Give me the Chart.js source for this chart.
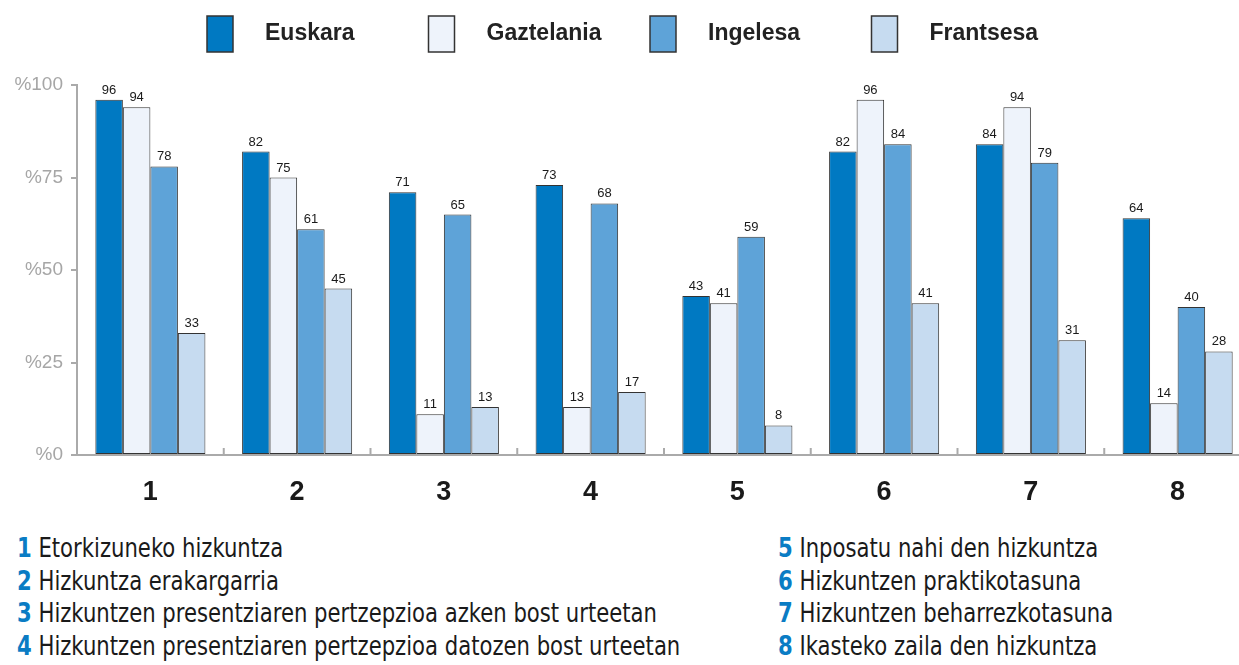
<!DOCTYPE html>
<html>
<head>
<meta charset="utf-8">
<script src="https://cdn.jsdelivr.net/npm/chart.js@4/dist/chart.umd.min.js"></script>
<style>
  body { margin: 0; background: #fff; width: 1239px; height: 665px; overflow: hidden; position: relative; }
  #wrap { position: absolute; left: 0; top: 0; width: 1239px; height: 520px; overflow: hidden; }
  #wrap canvas { display: block; }
  .notes { position: absolute; top: 532px; font-family: "DejaVu Sans Condensed", "Liberation Sans", sans-serif; font-size: 26px; line-height: 32.5px; color: #1a1a1a; white-space: nowrap; transform: scaleX(0.905); transform-origin: 0 0; }
  .notes b { color: #0a7cc4; }
</style>
</head>
<body>
<div id="wrap"><canvas id="grafica" width="1251" height="520"></canvas></div>
<div class="notes" id="notesLeft" style="left:17px"></div>
<div class="notes" id="notesRight" style="left:778px"></div>
<script>
const kategoriak = ['1', '2', '3', '4', '5', '6', '7', '8'];
const azalpenak = [
    'Etorkizuneko hizkuntza',
    'Hizkuntza erakargarria',
    'Hizkuntzen presentziaren pertzepzioa azken bost urteetan',
    'Hizkuntzen presentziaren pertzepzioa datozen bost urteetan',
    'Inposatu nahi den hizkuntza',
    'Hizkuntzen praktikotasuna',
    'Hizkuntzen beharrezkotasuna',
    'Ikasteko zaila den hizkuntza'
];
const hizkuntzak = ['Euskara', 'Gaztelania', 'Ingelesa', 'Frantsesa'];
const euskara = [96, 82, 71, 73, 43, 82, 84, 64];
const gaztelania = [94, 75, 11, 13, 41, 96, 94, 14];
const ingelesa = [78, 61, 65, 68, 59, 84, 79, 40];
const frantsesa = [33, 45, 13, 17, 8, 41, 31, 28];
const yTicks = [0, 25, 50, 75, 100];

const koloreak = ['#0079c2', '#eef3fb', '#5ea3d8', '#c6dbf0'];
const serieak = [euskara, gaztelania, ingelesa, frantsesa];

// notes under the chart
function notes(el, from, to) {
    let html = '';
    for (let i = from; i < to; i++) {
        html += '<div><b>' + kategoriak[i] + '</b> ' + azalpenak[i] + '</div>';
    }
    document.getElementById(el).innerHTML = html;
}
notes('notesLeft', 0, 4);
notes('notesRight', 4, 8);

const balioak = {
    id: 'balioak',
    afterDatasetsDraw(chart) {
        const ctx = chart.ctx;
        ctx.save();
        ctx.font = '13px "Liberation Sans", Arial, sans-serif';
        ctx.fillStyle = '#1a1a1a';
        ctx.textAlign = 'center';
        ctx.textBaseline = 'bottom';
        chart.data.datasets.forEach((ds, i) => {
            chart.getDatasetMeta(i).data.forEach((bar, j) => {
                ctx.fillText(ds.data[j], bar.x, bar.y - 3);
            });
        });
        ctx.restore();
    }
};

// small upward ticks between categories on the x axis
const xMarrak = {
    id: 'xMarrak',
    afterDraw(chart) {
        const x = chart.scales.x;
        const ctx = chart.ctx;
        const bottom = chart.chartArea.bottom;
        ctx.save();
        ctx.strokeStyle = '#aaaaaa';
        ctx.lineWidth = 2;
        for (let i = 0; i < kategoriak.length - 1; i++) {
            const px = (x.getPixelForValue(i) + x.getPixelForValue(i + 1)) / 2;
            ctx.beginPath();
            ctx.moveTo(px, bottom - 7);
            ctx.lineTo(px, bottom);
            ctx.stroke();
        }
        ctx.restore();
    }
};

// legend with even spacing
const legenda = {
    id: 'legenda',
    afterDraw(chart) {
        const ctx = chart.ctx;
        ctx.save();
        ctx.font = 'bold 23px "Liberation Sans", Arial, sans-serif';
        ctx.textBaseline = 'middle';
        chart.data.datasets.forEach((ds, i) => {
            const x = 207 + i * 221.5;
            ctx.fillStyle = ds.backgroundColor;
            ctx.fillRect(x, 16, 26, 36);
            ctx.strokeStyle = '#333';
            ctx.lineWidth = 1.5;
            ctx.strokeRect(x, 16, 26, 36);
            ctx.fillStyle = '#222';
            ctx.fillText(ds.label, x + 58, 34);
        });
        ctx.restore();
    }
};

const ctx = document.getElementById('grafica').getContext('2d');

const data = {
    labels: kategoriak,
    datasets: hizkuntzak.map((h, i) => ({
        label: h,
        data: serieak[i],
        backgroundColor: koloreak[i],
        borderColor: '#333333',
        borderWidth: 1,
        borderSkipped: false,
        barPercentage: 1,
        categoryPercentage: 0.75
    }))
};

const config = {
    type: 'bar',
    data: data,
    options: {
        responsive: false,
        animation: false,
        layout: { padding: { top: 85, left: 0, right: 0, bottom: 0 } },
        plugins: {
            legend: { display: false },
            tooltip: { enabled: false }
        },
        scales: {
            x: {
                grid: { display: false },
                border: { color: '#aaaaaa', width: 2 },
                ticks: {
                    color: '#1a1a1a',
                    padding: 13,
                    font: { family: '"Liberation Sans", Arial, sans-serif', size: 27, weight: 'bold' }
                },
                afterFit(scale) { scale.height = 65; }
            },
            y: {
                min: 0,
                max: 100,
                afterBuildTicks(scale) { scale.ticks = yTicks.map(v => ({ value: v })); },
                grid: { drawOnChartArea: false, tickLength: 6, color: '#aaaaaa', lineWidth: 2 },
                border: { color: '#aaaaaa', width: 2 },
                ticks: {
                    color: '#a6a6a6',
                    padding: 8,
                    font: { family: '"Liberation Sans", Arial, sans-serif', size: 19 },
                    callback: v => '%' + v
                },
                afterFit(scale) { scale.width = 77; }
            }
        }
    },
    plugins: [balioak, xMarrak, legenda]
};

const myChart = new Chart(ctx, config);
</script>
</body>
</html>
